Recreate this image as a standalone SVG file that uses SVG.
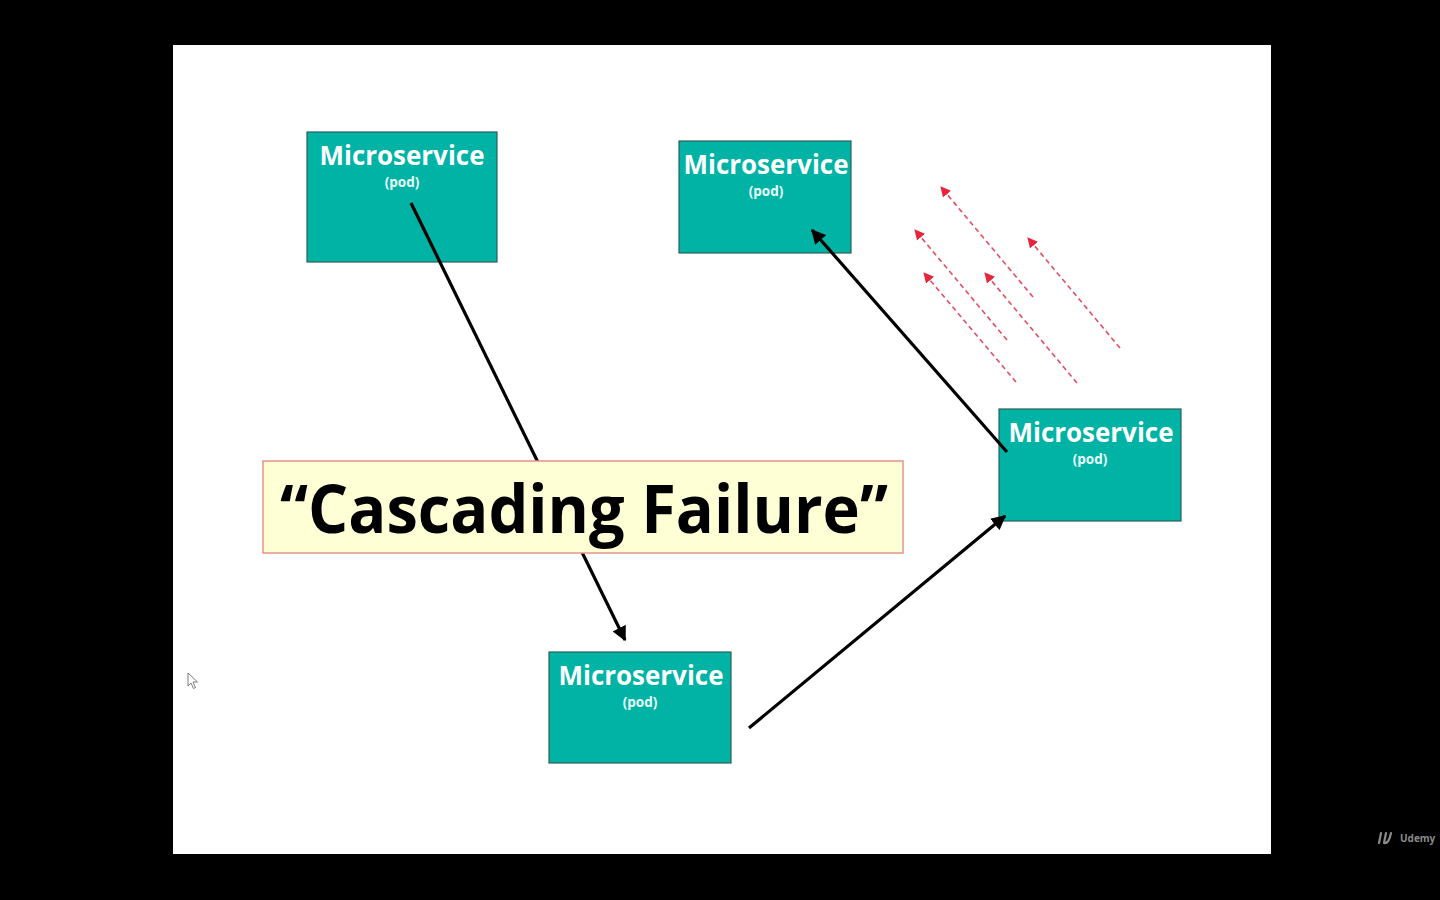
<svg xmlns="http://www.w3.org/2000/svg" width="1440" height="900" viewBox="0 0 1440 900">
  <defs>
    <style>
      .pod rect { fill: #00B3A4; stroke: #2E5E58; stroke-width: 1.2; }
      .pod .name { font-family: "Open Sans", "Noto Sans", sans-serif; font-weight: 700; font-size: 26px; fill: #FFFFFF; text-anchor: middle; }
      .pod .sub { font-family: "Open Sans", "Noto Sans", sans-serif; font-weight: 700; font-size: 13.5px; fill: #E8FFFB; text-anchor: middle; }
      .flow { stroke: #000000; stroke-width: 3.2; fill: none; marker-end: url(#head); }
      .retry { stroke: #E0304A; stroke-width: 1.6; stroke-dasharray: 5 3.5; fill: none; marker-end: url(#redhead); opacity: 0.85; }
      .title-box { fill: #FFFFD6; stroke: #E8928A; stroke-width: 1.5; }
      .title { font-family: "Open Sans", "Noto Sans", sans-serif; font-weight: 700; font-size: 66px; fill: #000000; text-anchor: middle; }
    </style>
    <marker id="head" viewBox="0 0 10 10" refX="9" refY="5" markerWidth="4.6" markerHeight="4.6" orient="auto" markerUnits="strokeWidth">
      <path d="M0,0 L10,5 L0,10 z" fill="#000000"/>
    </marker>
    <marker id="redhead" viewBox="0 0 10 10" refX="9" refY="5" markerWidth="6.5" markerHeight="6.5" orient="auto" markerUnits="strokeWidth">
      <path d="M0,0 L10,5 L0,10 z" fill="#E3001B"/>
    </marker>
  </defs>

  <!-- screen and slide -->
  <rect x="0" y="0" width="1440" height="900" fill="#000000"/>
  <rect x="173" y="45" width="1098" height="809" fill="#FFFFFF"/>

  <!-- nodes -->
  <g id="pod-top-left" class="pod">
    <rect x="307" y="132" width="190" height="130"/>
    <text class="name" x="402" y="165" textLength="165" lengthAdjust="spacingAndGlyphs">Microservice</text>
    <text class="sub" x="402" y="187">(pod)</text>
  </g>
  <g id="pod-top-right" class="pod">
    <rect x="679" y="141" width="172" height="112"/>
    <text class="name" x="766" y="174" textLength="165" lengthAdjust="spacingAndGlyphs">Microservice</text>
    <text class="sub" x="766" y="196">(pod)</text>
  </g>
  <g id="pod-right" class="pod">
    <rect x="999" y="409" width="182" height="112"/>
    <text class="name" x="1091" y="442" textLength="165" lengthAdjust="spacingAndGlyphs">Microservice</text>
    <text class="sub" x="1090" y="464">(pod)</text>
  </g>
  <g id="pod-bottom" class="pod">
    <rect x="549" y="652" width="182" height="111"/>
    <text class="name" x="641" y="685" textLength="165" lengthAdjust="spacingAndGlyphs">Microservice</text>
    <text class="sub" x="640" y="707">(pod)</text>
  </g>

  <!-- connectors (drawn over the pods) -->
  <g id="connectors">
    <line class="flow" x1="411" y1="203" x2="625" y2="640"/>
    <line class="flow" x1="749" y1="728" x2="1005" y2="516"/>
    <line class="flow" x1="1007" y1="452" x2="812" y2="230"/>
    <g id="retries">
      <line class="retry" x1="1033" y1="297" x2="941" y2="187"/>
      <line class="retry" x1="1007" y1="340" x2="915" y2="230"/>
      <line class="retry" x1="1016" y1="382" x2="924" y2="273"/>
      <line class="retry" x1="1077" y1="383" x2="985" y2="273"/>
      <line class="retry" x1="1120" y1="348" x2="1028" y2="238"/>
    </g>
  </g>

  <!-- caption banner over the first connector -->
  <g id="caption">
    <rect class="title-box" x="263" y="461" width="640" height="92"/>
    <text class="title" x="584" y="533" textLength="608" lengthAdjust="spacingAndGlyphs">“Cascading Failure”</text>
  </g>

  <!-- mouse pointer -->
  <path d="M188,673 L188,686 L191,683 L193.5,688.5 L195.5,687.5 L193,682 L197.5,682 Z" fill="#FFFFFF" stroke="#6E6E6E" stroke-width="0.9"/>

  <!-- watermark -->
  <g id="watermark" fill="none" stroke="#8A8A8A" stroke-width="2.2" stroke-linecap="round">
    <path d="M1381,833 L1379,843"/>
    <path d="M1386,833 L1384,843 M1384,843 Q1389,844 1391,833"/>
  </g>
  <text x="1400" y="842" font-family="Open Sans, Noto Sans, sans-serif" font-weight="700" font-size="10" fill="#8A8A8A">Udemy</text>
</svg>
